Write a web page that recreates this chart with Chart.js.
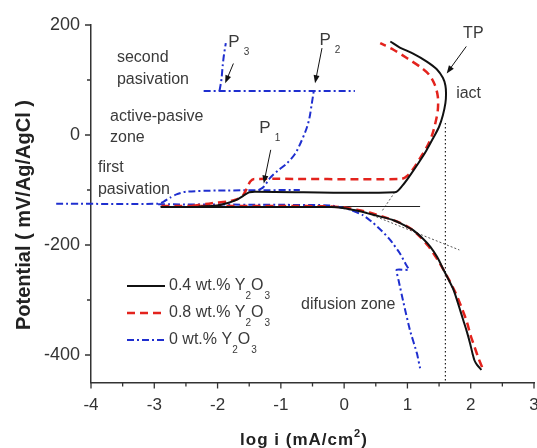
<!DOCTYPE html>
<html>
<head>
<meta charset="utf-8">
<script src="https://cdn.jsdelivr.net/npm/chart.js@4.4.0/dist/chart.umd.min.js"></script>
<style>
  html, body { margin: 0; padding: 0; background: #fff; }
</style>
</head>
<body>
<canvas id="chart" width="537" height="448"></canvas>
<script>
// axis ticks
const xTicks = [-4, -3, -2, -1, 0, 1, 2, 3]
const xMinor = [-3.5, -2.5, -1.5, -0.5, 0.5, 1.5, 2.5]
const yTicks = [-400, -200, 0, 200]
const yMinor = [-300, -100, 100]

// 0.4 wt.% Y2O3 (black)
const blackCathodic = [[2.17,-427],[2.1,-418],[2.06,-410],[2.03,-398],[1.99,-379],[1.94,-358],[1.88,-336],[1.81,-310],[1.73,-282],[1.65,-263],[1.57,-245],[1.47,-222],[1.36,-203],[1.25,-189],[1.09,-173],[0.95,-164],[0.78,-155],[0.56,-148],[0.36,-142],[0.18,-137],[0,-133],[-0.2,-131],[-1,-131],[-2.9,-131]]
const blackAnodic = [[-2.3,-130],[-2.0,-128],[-1.85,-124],[-1.72,-119],[-1.6,-111],[-1.5,-104],[-1.4,-103],[0.8,-104],[0.92,-92],[1.05,-72],[1.18,-50],[1.3,-28],[1.41,-5],[1.5,15],[1.56,36],[1.6,58],[1.61,75],[1.6,90],[1.56,104],[1.46,120],[1.3,134],[1.09,148],[0.88,159],[0.73,170]]

// 0.8 wt.% Y2O3 (red)
const redCathodic = [[2.18,-422],[2.12,-405],[2.06,-385],[2.0,-365],[1.94,-340],[1.85,-312],[1.76,-287],[1.66,-264],[1.56,-243],[1.45,-222],[1.33,-202],[1.2,-185],[1.05,-170],[0.85,-158],[0.6,-148],[0.4,-141],[0.2,-136],[0,-132],[-0.2,-130],[-1,-129],[-2.9,-129]]
const redAnodic = [[-2.4,-129],[-2.09,-124],[-1.83,-121],[-1.7,-117],[-1.6,-110],[-1.53,-95],[-1.48,-84],[-1.42,-80],[0.9,-80],[1.0,-74],[1.09,-62],[1.2,-42],[1.31,-21],[1.39,0],[1.44,21],[1.48,45],[1.48,70],[1.43,92],[1.34,110],[1.2,124],[0.99,140],[0.78,155],[0.57,167]]

// 0 wt.% Y2O3 (blue)
const blueFirst = [[-4.55,-125],[-2.94,-125],[-2.85,-121],[-2.75,-114],[-2.65,-108],[-2.5,-103],[-2.0,-101],[-0.7,-100]]
const blueCathodic = [[-2.94,-126],[-1,-127],[-0.22,-128],[0.1,-136],[0.3,-146],[0.46,-160],[0.6,-175],[0.73,-191],[0.88,-215],[0.97,-234],[1.02,-245],[0.83,-245],[0.86,-264],[0.94,-306],[1.04,-355],[1.15,-397],[1.2,-424]]
const blueP1 = [[-1.35,-100],[-1.27,-94],[-1.17,-78],[-1.05,-65],[-0.91,-52],[-0.78,-35],[-0.69,-15],[-0.6,10],[-0.55,30],[-0.51,58],[-0.48,80]]
const blueP2 = [[-2.22,80],[0.17,80]]
const blueP3 = [[-1.97,80],[-1.94,100],[-1.92,125],[-1.9,145],[-1.87,167]]

// construction lines
const tafelLine = [[-2.9,-130],[1.2,-130]]
const anodicTangent = [[0.8,-104],[0.6,-138]]
const cathodicTangent = [[0.45,-146],[1.82,-209]]
const iactLine = [[1.6,22],[1.6,-450]]

// text notes [text, x, y] in data units
const notes = [
  ['second', -3.59, 140], ['pasivation', -3.59, 100],
  ['active-pasive', -3.7, 33], ['zone', -3.7, -4],
  ['first', -3.89, -60], ['pasivation', -3.89, -100],
  ['difusion zone', -0.68, -309], ['iact', 1.77, 76], ['TP', 1.88, 185]
]
// peak labels [main, sub, x, y]
const peaks = [['P', '1', -1.25, 13], ['P', '2', -0.3, 173], ['P', '3', -1.74, 169]]
// arrows [x1, y1, x2, y2]
const arrows = [
  [1.93, 161, 1.62, 112],
  [-1.16, -27, -1.27, -88],
  [-0.35, 158, -0.46, 94],
  [-1.75, 130, -1.88, 94]
]

const BLACK = '#111111'
const RED = '#e3231d'
const BLUE = '#1f2fcf'
const FONT = '"Liberation Sans", Arial, sans-serif'

const pts = arr => arr.map(p => ({x: p[0], y: p[1]}))

const line = (data, color, width, dash, extra) => Object.assign({
  data: pts(data),
  showLine: true,
  borderColor: color,
  borderWidth: width,
  borderDash: dash,
  pointRadius: 0,
  tension: 0.3,
  fill: false
}, extra || {})

const overlay = {
  id: 'overlay',
  afterDraw(chart) {
    const ctx = chart.ctx
    const xs = chart.scales.x, ys = chart.scales.y
    const px = v => xs.getPixelForValue(v)
    const py = v => ys.getPixelForValue(v)
    const a = chart.chartArea
    ctx.save()

    // tick marks
    ctx.strokeStyle = '#333'
    ctx.lineWidth = 1.3
    ctx.beginPath()
    xTicks.forEach(v => { ctx.moveTo(px(v), a.bottom); ctx.lineTo(px(v), a.bottom + 6) })
    xMinor.forEach(v => { ctx.moveTo(px(v), a.bottom); ctx.lineTo(px(v), a.bottom + 4) })
    yTicks.forEach(v => { ctx.moveTo(a.left, py(v)); ctx.lineTo(a.left - 6, py(v)) })
    yMinor.forEach(v => { ctx.moveTo(a.left, py(v)); ctx.lineTo(a.left - 4, py(v)) })
    ctx.stroke()

    // notes
    ctx.fillStyle = '#3a3a3a'
    ctx.font = '16px ' + FONT
    ctx.textBaseline = 'middle'
    ctx.textAlign = 'left'
    notes.forEach(n => ctx.fillText(n[0], px(n[1]), py(n[2])))

    // peaks
    peaks.forEach(p => {
      ctx.font = '17px ' + FONT
      ctx.textAlign = 'center'
      ctx.fillText(p[0], px(p[2]), py(p[3]))
      const w = ctx.measureText(p[0]).width
      ctx.font = '10px ' + FONT
      ctx.textAlign = 'left'
      ctx.fillText(p[1], px(p[2]) + w / 2 + 4, py(p[3]) + 10)
    })

    // arrows
    ctx.strokeStyle = '#111'
    ctx.fillStyle = '#111'
    ctx.lineWidth = 1
    arrows.forEach(r => {
      const x1 = px(r[0]), y1 = py(r[1]), x2 = px(r[2]), y2 = py(r[3])
      const ang = Math.atan2(y2 - y1, x2 - x1)
      ctx.beginPath()
      ctx.moveTo(x1, y1)
      ctx.lineTo(x2 - 6 * Math.cos(ang), y2 - 6 * Math.sin(ang))
      ctx.stroke()
      ctx.beginPath()
      ctx.moveTo(x2, y2)
      ctx.lineTo(x2 - 8 * Math.cos(ang) + 3 * Math.sin(ang), y2 - 8 * Math.sin(ang) - 3 * Math.cos(ang))
      ctx.lineTo(x2 - 8 * Math.cos(ang) - 3 * Math.sin(ang), y2 - 8 * Math.sin(ang) + 3 * Math.cos(ang))
      ctx.closePath()
      ctx.fill()
    })

    // legend
    const legend = [
      [BLACK, 2, [], '0.4 wt.% Y'],
      [RED, 2.5, [8, 5], '0.8 wt.% Y'],
      [BLUE, 2, [7, 3, 2, 3], '0 wt.% Y']
    ]
    legend.forEach((l, i) => {
      const ly = 286 + i * 27
      ctx.strokeStyle = l[0]
      ctx.lineWidth = l[1]
      ctx.setLineDash(l[2])
      ctx.beginPath()
      ctx.moveTo(127, ly)
      ctx.lineTo(165, ly)
      ctx.stroke()
      ctx.setLineDash([])
      ctx.fillStyle = '#3a3a3a'
      ctx.font = '16px ' + FONT
      ctx.textAlign = 'left'
      let tx = 169
      ctx.fillText(l[3], tx, ly)
      tx += ctx.measureText(l[3]).width
      ctx.font = '10px ' + FONT
      ctx.fillText('2', tx, ly + 10)
      tx += ctx.measureText('2').width
      ctx.font = '16px ' + FONT
      ctx.fillText('O', tx, ly)
      tx += ctx.measureText('O').width + 1
      ctx.font = '10px ' + FONT
      ctx.fillText('3', tx, ly + 10)
    })

    // axis titles
    ctx.fillStyle = '#222'
    ctx.letterSpacing = '1px'
    const t1 = 'log i (mA/cm', t2 = '2', t3 = ')'
    ctx.font = 'bold 17px ' + FONT
    const w1 = ctx.measureText(t1).width, w3 = ctx.measureText(t3).width
    ctx.font = 'bold 11px ' + FONT
    const w2 = ctx.measureText(t2).width
    let tx = 304 - (w1 + w2 + w3) / 2
    ctx.textAlign = 'left'
    ctx.font = 'bold 17px ' + FONT
    ctx.fillText(t1, tx, 440)
    tx += w1
    ctx.font = 'bold 11px ' + FONT
    ctx.fillText(t2, tx, 434)
    tx += w2
    ctx.font = 'bold 17px ' + FONT
    ctx.fillText(t3, tx, 440)
    ctx.letterSpacing = '0px'

    ctx.translate(24, 215)
    ctx.rotate(-Math.PI / 2)
    ctx.textAlign = 'center'
    ctx.font = 'bold 20px ' + FONT
    ctx.fillText('Potential ( mV/Ag/AgCl )', 0, 0)
    ctx.restore()
  }
}

new Chart(document.getElementById('chart'), {
  type: 'scatter',
  data: {
    datasets: [
      line(blackCathodic, BLACK, 2, []),
      line(blackAnodic, BLACK, 2, []),
      line(redCathodic, RED, 2.5, [8, 5]),
      line(redAnodic, RED, 2.5, [8, 5]),
      line(blueFirst, BLUE, 2, [7, 3, 2, 3], {tension: 0.2, clip: false}),
      line(blueCathodic, BLUE, 2, [7, 3, 2, 3], {tension: 0.15}),
      line(blueP1, BLUE, 2, [7, 3, 2, 3]),
      line(blueP2, BLUE, 2, [7, 3, 2, 3], {tension: 0}),
      line(blueP3, BLUE, 2, [7, 3, 2, 3]),
      line(tafelLine, '#222', 1, [], {tension: 0}),
      line(anodicTangent, '#555', 1, [2, 2], {tension: 0}),
      line(cathodicTangent, '#555', 1, [2, 2], {tension: 0}),
      line(iactLine, '#222', 1.2, [1.5, 2.5], {tension: 0})
    ]
  },
  options: {
    responsive: false,
    animation: false,
    devicePixelRatio: 1,
    layout: { padding: { top: 25, right: 3, left: 0, bottom: 0 } },
    plugins: { legend: { display: false }, tooltip: { enabled: false } },
    scales: {
      x: {
        type: 'linear',
        min: -4,
        max: 3,
        afterBuildTicks: s => { s.ticks = xTicks.map(v => ({value: v})) },
        afterFit: s => { s.height = 65.5; s.paddingRight = 3 },
        grid: { display: false, drawTicks: false },
        border: { display: true, color: '#333', width: 1.5 },
        ticks: { color: '#333', padding: 13, font: { family: FONT, size: 17 }, maxRotation: 0 }
      },
      y: {
        type: 'linear',
        min: -450,
        max: 200,
        afterBuildTicks: s => { s.ticks = yTicks.map(v => ({value: v})) },
        afterFit: s => { s.width = 91 },
        grid: { display: false, drawTicks: false },
        border: { display: true, color: '#333', width: 1.5 },
        ticks: { color: '#333', padding: 11, font: { family: FONT, size: 18 } }
      }
    }
  },
  plugins: [overlay]
})
</script>
</body>
</html>
